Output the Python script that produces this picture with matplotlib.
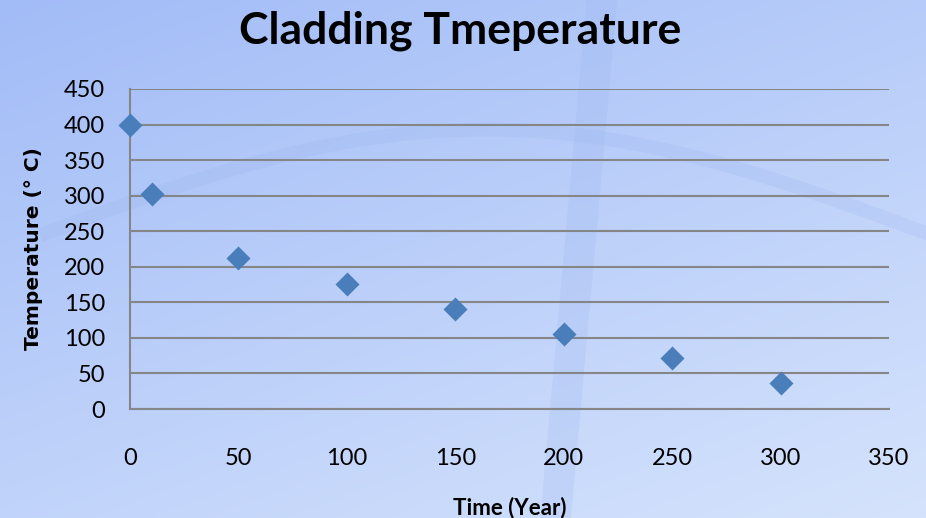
import numpy as np
import matplotlib.pyplot as plt
from matplotlib.colors import LinearSegmentedColormap

plt.rcParams['font.family'] = ['Lato', 'DejaVu Sans']

# data
years = [0, 10, 50, 100, 150, 200, 250, 300]
temps = [400, 302, 212, 176, 141, 106, 72, 37]
xticks = [0, 50, 100, 150, 200, 250, 300, 350]
yticks = [0, 50, 100, 150, 200, 250, 300, 350, 400, 450]

fig = plt.figure(figsize=(9.26, 5.18), dpi=100)

# background gradient, darker at the top, lighter toward bottom right
bg = fig.add_axes([0, 0, 1, 1])
yy, xx = np.mgrid[0:1:200j, 0:1:300j]
grad = 0.6 * yy + 0.4 * xx
cmap = LinearSegmentedColormap.from_list('bg', ['#a2bcf7', '#d5e3fc'])
bg.imshow(grad, cmap=cmap, extent=[0, 1, 0, 1], aspect='auto', origin='upper')
# faint swooshes
t = np.linspace(0, 1, 200)
bg.plot(0.60 + 0.05 * t, t, color='#98b2ec', lw=22, alpha=0.2)
bg.plot(0.05 + 0.95 * t, 0.55 + 0.2 * np.sin(np.pi * t), color='#98b2ec', lw=10, alpha=0.2)
bg.set_xlim(0, 1)
bg.set_ylim(0, 1)
bg.axis('off')

ax = fig.add_axes([0.1404, 0.2104, 0.8196, 0.6178])
ax.patch.set_alpha(0)
ax.scatter(years, temps, marker='D', s=150, color='#4a7ebb', zorder=3,
           linewidths=0, clip_on=False)
ax.set_xlim(0, 350)
ax.set_ylim(0, 450)
ax.set_xticks(xticks)
ax.set_yticks(yticks)
ax.tick_params(length=0, labelsize=17)
ax.tick_params(axis='x', pad=28)
ax.tick_params(axis='y', pad=18)
ax.yaxis.grid(True, color='#868686', lw=1.5)
ax.set_axisbelow(True)
for s in ['top', 'right']:
    ax.spines[s].set_visible(False)
for s in ['left', 'bottom']:
    ax.spines[s].set_color('#868686')
    ax.spines[s].set_linewidth(1.5)

ax.set_xlabel('Time (Year)', fontsize=16, fontweight='bold', labelpad=20)
ax.set_ylabel('Temperature (° C)', fontsize=14.5, fontweight='bold', labelpad=15,
              family='DejaVu Sans')
fig.text(0.497, 0.94, 'Cladding Tmeperature', ha='center', va='center',
         fontsize=32, fontweight='bold')

fig.savefig('out.png', dpi=100)
